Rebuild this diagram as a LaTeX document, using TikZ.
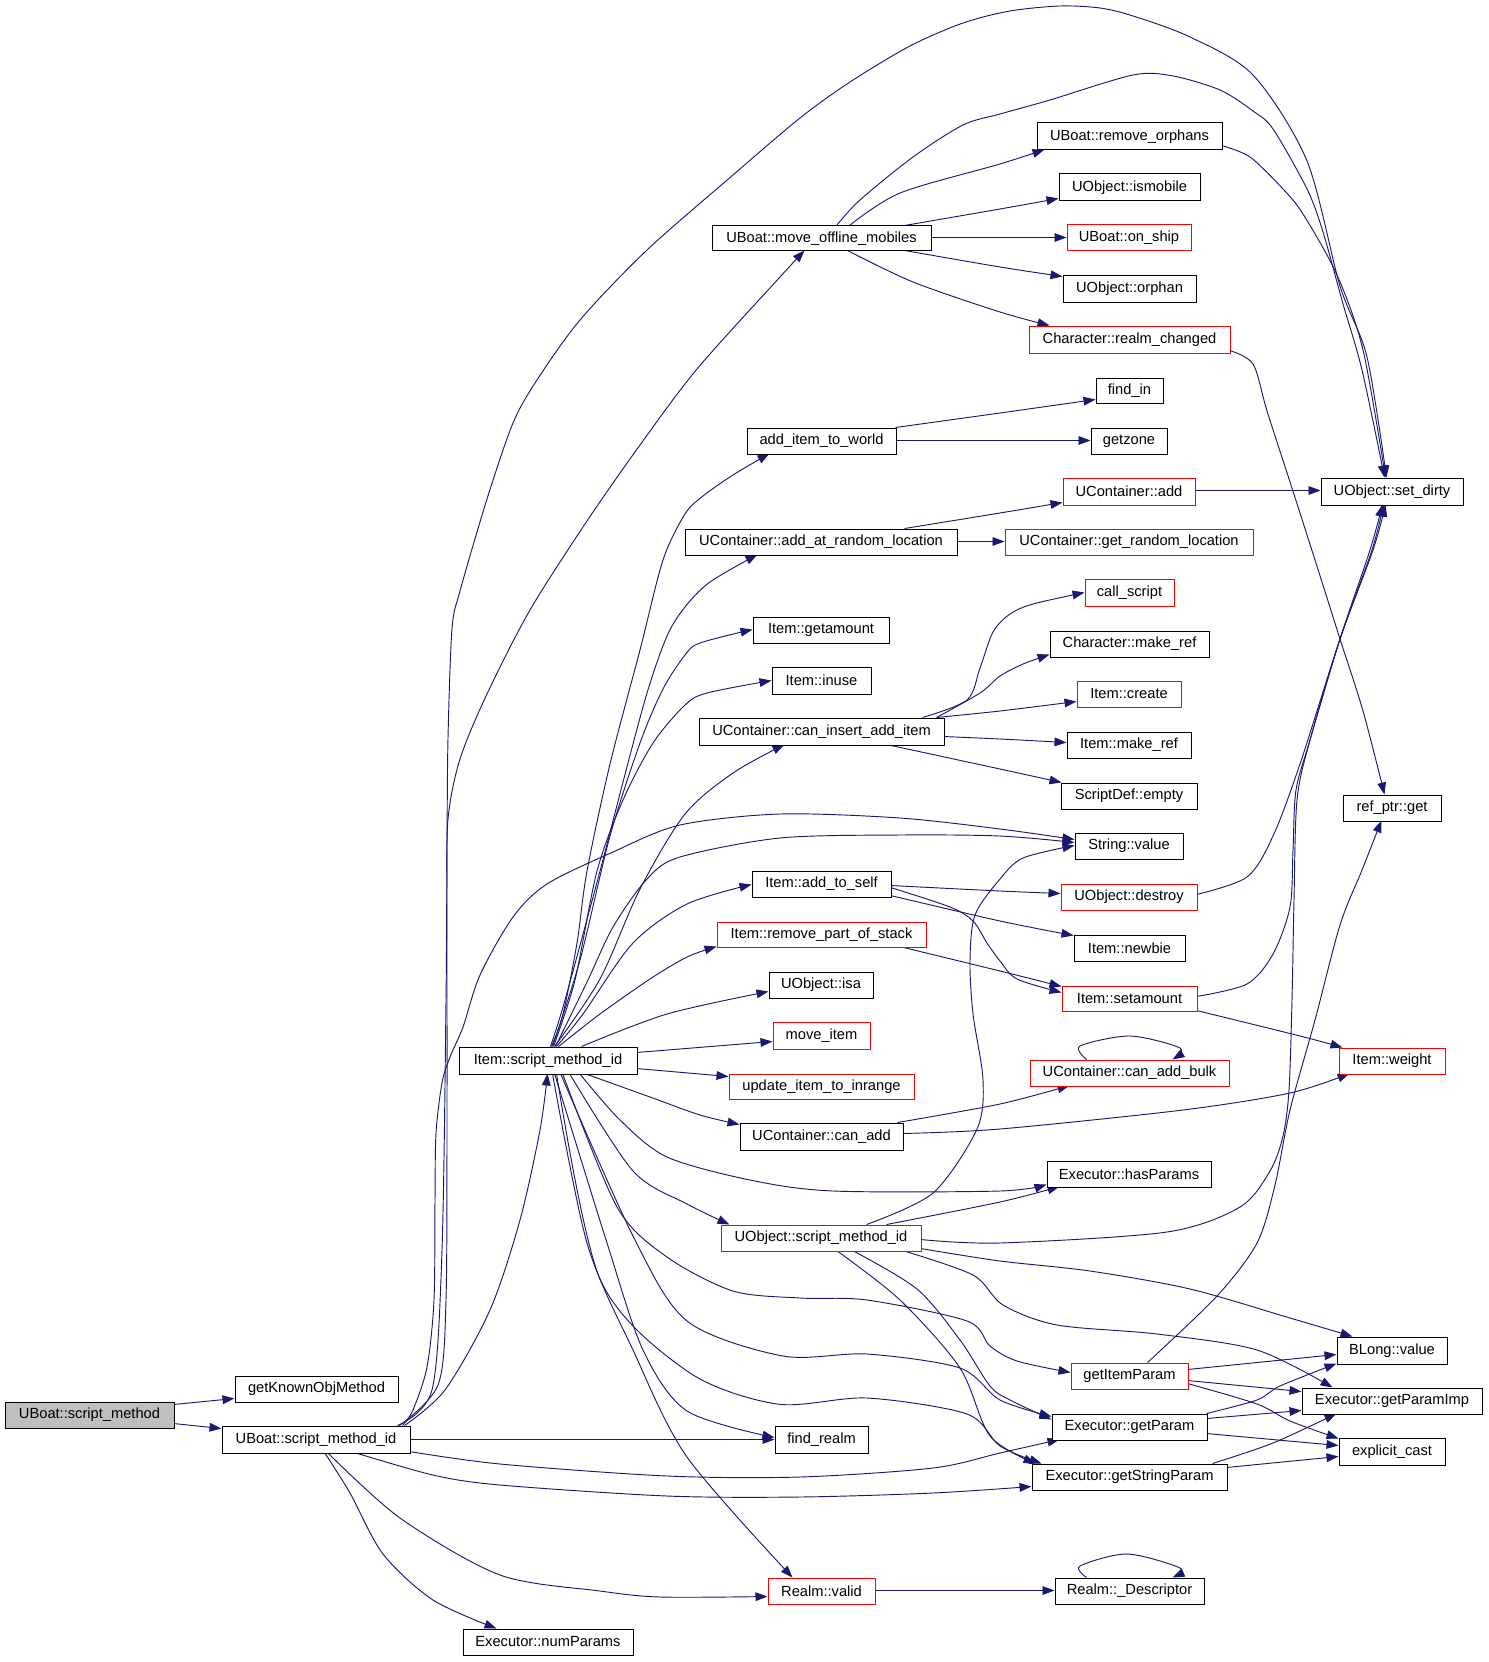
\documentclass[tikz,border=0pt]{standalone}
\usepackage{fontspec}
\setmainfont{Liberation Sans}
\usetikzlibrary{arrows.meta}
\definecolor{edgeblue}{HTML}{191970}
\definecolor{rootgray}{HTML}{BFBFBF}
\pgfdeclarelayer{bg}
\pgfsetlayers{bg,main}
\newcommand\mkbox[7][box]{\node[#1,minimum width={(#5-#3)*0.75pt},minimum height={(#6-#4)*0.75pt}] (#2) at ({(#3+#5)/2},{(#4+#6)/2}) {#7};}
\newcommand\edg[1]{\draw[cedge] plot[smooth,tension=0.5] coordinates {#1};}
\begin{document}
\begin{tikzpicture}[x=0.75pt,y=-0.75pt,
 box/.style={draw=black,fill=white,line width=0.75pt,inner sep=0pt,rectangle,font=\fontsize{11}{13}\selectfont},
 rbox/.style={box,draw=red},
 gbox/.style={box,fill=rootgray},
 cedge/.style={draw=edgeblue,line width=0.7pt,-{Triangle[length=9pt,width=6.5pt,fill=edgeblue]}}]
\useasboundingbox (0,0) rectangle (1488,1662);
% nodes
\mkbox[gbox]{SM}{5}{1402}{174}{1428}{UBoat::script\_method}
\mkbox{GKOM}{235}{1376}{398}{1402}{getKnownObjMethod}
\mkbox{USMI}{222}{1426}{410}{1453}{UBoat::script\_method\_id}
\mkbox{NUMP}{463}{1629}{633}{1655}{Executor::numParams}
\mkbox{CANADD}{740}{1123}{903}{1150}{UContainer::can\_add}
\mkbox[rbox]{OSMI}{721}{1225}{921}{1251}{UObject::script\_method\_id}
\mkbox{FINDREALM}{775}{1426}{868}{1453}{find\_realm}
\mkbox[rbox]{RVALID}{768}{1578}{875}{1604}{Realm::valid}
\mkbox{HASP}{1047}{1161}{1211}{1187}{Executor::hasParams}
\mkbox[rbox]{GIP}{1071}{1363}{1188}{1389}{getItemParam}
\mkbox{GETP}{1052}{1414}{1207}{1440}{Executor::getParam}
\mkbox{GSP}{1032}{1464}{1227}{1490}{Executor::getStringParam}
\mkbox{BLONG}{1337}{1337}{1447}{1364}{BLong::value}
\mkbox{GPI}{1302}{1388}{1482}{1414}{Executor::getParamImp}
\mkbox{ECAST}{1339}{1438}{1445}{1465}{explicit\_cast}
\mkbox{RDESC}{1055}{1578}{1204}{1604}{Realm::\_Descriptor}
\mkbox{MOM}{712}{226}{931}{251}{UBoat::move\_offline\_mobiles}
\mkbox{AITW}{747}{428}{896}{454}{add\_item\_to\_world}
\mkbox{AARL}{685}{529}{957}{555}{UContainer::add\_at\_random\_location}
\mkbox{RORPH}{1037}{123}{1222}{150}{UBoat::remove\_orphans}
\mkbox{ISMOB}{1059}{174}{1200}{201}{UObject::ismobile}
\mkbox[rbox]{ONSHIP}{1067}{225}{1191}{251}{UBoat::on\_ship}
\mkbox{ORPH}{1063}{275}{1196}{302}{UObject::orphan}
\mkbox[rbox]{RCHG}{1029}{326}{1230}{353}{Character::realm\_changed}
\mkbox{FINDIN}{1096}{378}{1163}{403}{find\_in}
\mkbox{GETZONE}{1091}{428}{1167}{454}{getzone}
\mkbox[rbox]{UCADD}{1063}{478}{1195}{505}{UContainer::add}
\mkbox{SETDIRTY}{1321}{478}{1463}{505}{UObject::set\_dirty}
\mkbox[rbox]{GRL}{1005}{529}{1253}{555}{UContainer::get\_random\_location}
\mkbox{GETAMT}{753}{617}{889}{643}{Item::getamount}
\mkbox{INUSE}{772}{667}{871}{694}{Item::inuse}
\mkbox{CIAI}{699}{718}{944}{745}{UContainer::can\_insert\_add\_item}
\mkbox{ATS}{752}{871}{891}{897}{Item::add\_to\_self}
\mkbox[rbox]{RPOS}{717}{922}{926}{947}{Item::remove\_part\_of\_stack}
\mkbox{ISA}{769}{972}{873}{998}{UObject::isa}
\mkbox[rbox]{MOVEITEM}{773}{1022}{870}{1049}{move\_item}
\mkbox[rbox]{UITI}{729}{1074}{914}{1099}{update\_item\_to\_inrange}
\mkbox{ISMI}{459}{1047}{637}{1074}{Item::script\_method\_id}
\mkbox[rbox]{CALLSCRIPT}{1085}{579}{1174}{606}{call\_script}
\mkbox{CMREF}{1050}{631}{1209}{657}{Character::make\_ref}
\mkbox[rbox]{ICREATE}{1077}{681}{1181}{707}{Item::create}
\mkbox{IMREF}{1067}{732}{1191}{758}{Item::make\_ref}
\mkbox{SDEMPTY}{1061}{783}{1197}{809}{ScriptDef::empty}
\mkbox{SVALUE}{1075}{833}{1183}{859}{String::value}
\mkbox[rbox]{ODESTROY}{1061}{884}{1197}{910}{UObject::destroy}
\mkbox{NEWBIE}{1074}{935}{1185}{961}{Item::newbie}
\mkbox[rbox]{SETAMT}{1062}{986}{1197}{1011}{Item::setamount}
\mkbox[rbox]{CABULK}{1030}{1060}{1229}{1086}{UContainer::can\_add\_bulk}
\mkbox{REFGET}{1343}{795}{1441}{821}{ref\_ptr::get}
\mkbox[rbox]{WEIGHT}{1339}{1048}{1445}{1074}{Item::weight}
% edges
\begin{pgfonlayer}{bg}
\edg{([shift={(169,3)}]SM.north west) ([shift={(0,23)}]GKOM.north west)}
\edg{([shift={(169,22)}]SM.north west) ([shift={(0,3)}]USMI.north west)}
\edg{([shift={(183,0)}]USMI.north west) (445,1390) (490,1310) (520,1220) (540,1130) ([shift={(89,27)}]ISMI.north west)}
\edg{([shift={(178,0)}]USMI.north west) (438,1385) (446,1300) (447,1100) (447,900) (448,819) (460,759) (487,694) (530,610) (587,521) (640,445) (697,369) (780,277) ([shift={(93,25)}]MOM.north west)}
\edg{([shift={(176,0)}]USMI.north west) (432,1390) (442,1250) (446,1000) (447,846) (448,738) (452,629) (460,591) (487,499) (513,423) (537,380) (580,320) (647,250) (733,175) (800,118) (850,82) (910,46) (963,23) (1010,11) (1060,6) (1100,8) (1133,16) (1190,37) (1253,75) (1307,161) (1340,286) (1367,357) ([shift={(66,0)}]SETDIRTY.north west)}
\edg{([shift={(181,0)}]USMI.north west) (413,1410) (427,1367) (434,1300) (435,1200) (436,1133) (442,1083) (450,1057) (463,1027) (480,975) (513,917) (547,884) (613,852) (680,825) (780,814) (900,818) (1000,829) ([shift={(0,7)}]SVALUE.north west)}
\edg{([shift={(188,14)}]USMI.north west) ([shift={(0,14)}]FINDREALM.north west)}
\edg{([shift={(188,26)}]USMI.north west) (500,1464) (667,1476) (800,1477) (933,1468) (1000,1453) ([shift={(8,26)}]GETP.north west)}
\edg{([shift={(133,27)}]USMI.north west) (433,1475) (500,1485) (667,1496) (800,1497) (933,1493) ([shift={(0,23)}]GSP.north west)}
\edg{([shift={(106,27)}]USMI.north west) (400,1518) (500,1575) (600,1591) (660,1597) ([shift={(0,19)}]RVALID.north west)}
\edg{([shift={(103,27)}]USMI.north west) (350,1493) (383,1554) (433,1600) ([shift={(34,0)}]NUMP.north west)}
% Item::script_method_id
\edg{([shift={(93,0)}]ISMI.north west) (563,1014) (577,943) (587,871) (610,764) (640,650) (663,560) (685,514) (703,496) (733,475) ([shift={(23,26)}]AITW.north west)}
\edg{([shift={(92,0)}]ISMI.north west) (565,1000) (600,871) (623,782) (647,693) (667,636) (685,607) (710,582) ([shift={(73,26)}]AARL.north west)}
\edg{([shift={(94,0)}]ISMI.north west) (580,960) (610,836) (640,743) (663,689) (685,655) (700,643) ([shift={(0,13)}]GETAMT.north west)}
\edg{([shift={(95,0)}]ISMI.north west) (575,980) (597,871) (623,800) (653,743) (685,705) (707,693) ([shift={(0,14)}]INUSE.north west)}
\edg{([shift={(96,0)}]ISMI.north west) (600,979) (640,889) (685,814) (733,773) ([shift={(86,27)}]CIAI.north west)}
\edg{([shift={(97,0)}]ISMI.north west) (587,982) (613,927) (647,879) (680,857) (780,838) (900,835) (1000,836) ([shift={(0,10)}]SVALUE.north west)}
\edg{([shift={(98,0)}]ISMI.north west) (583,1014) (633,943) (687,904) ([shift={(0,14)}]ATS.north west)}
\edg{([shift={(100,0)}]ISMI.north west) (600,1014) (650,979) (687,957) ([shift={(0,25)}]RPOS.north west)}
\edg{([shift={(123,0)}]ISMI.north west) (667,1014) ([shift={(0,20)}]ISA.north west)}
\edg{([shift={(178,6)}]ISMI.north west) ([shift={(0,20)}]MOVEITEM.north west)}
\edg{([shift={(178,22)}]ISMI.north west) ([shift={(0,3)}]UITI.north west)}
\edg{([shift={(126,27)}]ISMI.north west) (650,1097) (700,1115) ([shift={(0,2)}]CANADD.north west)}
\edg{([shift={(121,27)}]ISMI.north west) (620,1120) (667,1157) (750,1180) (833,1191) (1000,1191) ([shift={(0,24)}]HASP.north west)}
\edg{([shift={(111,27)}]ISMI.north west) (633,1171) (687,1204) ([shift={(9,0)}]OSMI.north west)}
\edg{([shift={(104,27)}]ISMI.north west) (617,1207) (667,1257) (733,1291) (800,1298) (867,1300) (967,1321) (990,1346) (1017,1361) ([shift={(0,10)}]GIP.north west)}
\edg{([shift={(102,27)}]ISMI.north west) (633,1236) (687,1321) (783,1356) (867,1354) (960,1368) (1000,1400) ([shift={(0,3)}]GETP.north west)}
\edg{([shift={(98,27)}]ISMI.north west) (600,1279) (687,1371) (777,1404) (867,1398) (967,1414) (1000,1446) ([shift={(10,0)}]GSP.north west)}
\edg{([shift={(96,27)}]ISMI.north west) (607,1243) (643,1350) (687,1411) ([shift={(0,12)}]FINDREALM.north west)}
\edg{([shift={(94,27)}]ISMI.north west) (587,1243) (633,1350) (687,1457) ([shift={(25,0)}]RVALID.north west)}
% UObject::script_method_id
\edg{([shift={(166,0)}]OSMI.north west) (1000,1202) ([shift={(13,26)}]HASP.north west)}
\edg{([shift={(146,0)}]OSMI.north west) (933,1193) (977,1129) (983,1080) (973,1014) (970,961) (975,915) (1000,879) (1023,858) ([shift={(0,13)}]SVALUE.north west)}
\edg{([shift={(200,15)}]OSMI.north west) (1000,1243) (1167,1232) (1240,1207) (1270,1171) (1283,1136) (1289,1090) (1292,1000) (1294,900) (1297,800) (1310,740) (1340,639) (1370,550) ([shift={(62,27)}]SETDIRTY.north west)}
\edg{([shift={(200,24)}]OSMI.north west) (1000,1261) (1090,1271) (1190,1289) (1290,1318) ([shift={(16,0)}]BLONG.north west)}
\edg{([shift={(182,26)}]OSMI.north west) (973,1275) (1003,1305) (1057,1325) (1157,1334) (1257,1350) ([shift={(31,0)}]GPI.north west)}
\edg{([shift={(132,26)}]OSMI.north west) (917,1289) (960,1340) (990,1386) (1010,1400) ([shift={(0,6)}]GETP.north west)}
\edg{([shift={(116,26)}]OSMI.north west) (900,1300) (960,1368) (990,1436) ([shift={(4,0)}]GSP.north west)}
% UBoat::move_offline_mobiles
\edg{([shift={(125,0)}]MOM.north west) (860,200) (913,157) (963,125) (1000,114) (1050,100) (1133,75) (1173,76) (1220,90) (1253,111) (1273,129) (1307,189) (1323,232) (1343,304) (1362,370) ([shift={(64,0)}]SETDIRTY.north west)}
\edg{([shift={(138,0)}]MOM.north west) (900,193) (1000,164) ([shift={(8,27)}]RORPH.north west)}
\edg{([shift={(193,0)}]MOM.north west) (1000,209) ([shift={(0,25)}]ISMOB.north west)}
\edg{([shift={(219,12)}]MOM.north west) ([shift={(0,13)}]ONSHIP.north west)}
\edg{([shift={(193,25)}]MOM.north west) (1000,267) ([shift={(0,2)}]ORPH.north west)}
\edg{([shift={(136,25)}]MOM.north west) (913,282) (1000,312) ([shift={(21,0)}]RCHG.north west)}
\edg{([shift={(185,23)}]RORPH.north west) (1250,157) (1283,189) (1303,214) (1337,275) (1363,350) ([shift={(65,0)}]SETDIRTY.north west)}
\edg{([shift={(201,25)}]RCHG.north west) (1253,364) (1267,411) (1290,482) (1315,560) (1340,639) (1363,711) ([shift={(42,0)}]REFGET.north west)}
\edg{([shift={(149,0)}]AITW.north west) (1000,413) ([shift={(0,22)}]FINDIN.north west)}
\edg{([shift={(149,13)}]AITW.north west) ([shift={(0,13)}]GETZONE.north west)}
\edg{([shift={(220,0)}]AARL.north west) (1000,513) ([shift={(0,25)}]UCADD.north west)}
\edg{([shift={(272,13)}]AARL.north west) ([shift={(0,13)}]GRL.north west)}
\edg{([shift={(132,13)}]UCADD.north west) ([shift={(0,13)}]SETDIRTY.north west)}
% UContainer::can_insert_add_item
\edg{([shift={(224,0)}]CIAI.north west) (967,700) (980,668) (993,632) (1010,614) (1033,604) ([shift={(0,14)}]CALLSCRIPT.north west)}
\edg{([shift={(238,0)}]CIAI.north west) (980,693) (1000,676) (1023,664) ([shift={(0,24)}]CMREF.north west)}
\edg{([shift={(238,0)}]CIAI.north west) (1000,711) ([shift={(0,21)}]ICREATE.north west)}
\edg{([shift={(245,19)}]CIAI.north west) (1000,739) ([shift={(0,11)}]IMREF.north west)}
\edg{([shift={(188,27)}]CIAI.north west) (1000,769) ([shift={(1,0)}]SDEMPTY.north west)}
% Item::add_to_self etc.
\edg{([shift={(139,15)}]ATS.north west) (1000,891) ([shift={(0,10)}]ODESTROY.north west)}
\edg{([shift={(139,25)}]ATS.north west) (1000,921) ([shift={(0,1)}]NEWBIE.north west)}
\edg{([shift={(139,17)}]ATS.north west) (950,907) (973,921) (987,943) (1000,961) (1017,979) ([shift={(0,7)}]SETAMT.north west)}
\edg{([shift={(183,25)}]RPOS.north west) (1000,971) ([shift={(0,1)}]SETAMT.north west)}
\edg{([shift={(136,11)}]ODESTROY.north west) (1247,877) (1273,836) (1300,764) (1340,639) (1373,550) ([shift={(65,27)}]SETDIRTY.north west)}
\edg{([shift={(135,11)}]SETAMT.north west) (1247,984) (1273,954) (1290,907) (1293,850) (1296,790) (1310,740) (1340,639) (1372,550) ([shift={(63,27)}]SETDIRTY.north west)}
\edg{([shift={(135,25)}]SETAMT.north west) (1300,1036) ([shift={(4,0)}]WEIGHT.north west)}
\edg{([shift={(158,0)}]CANADD.north west) (1000,1104) ([shift={(40,26)}]CABULK.north west)}
\edg{([shift={(163,11)}]CANADD.north west) (1000,1129) (1183,1110) (1290,1093) ([shift={(11,26)}]WEIGHT.north west)}
\edg{([shift={(57,0)}]CABULK.north west) (1080,1046) (1130,1036) (1180,1048) ([shift={(143,0)}]CABULK.north west)}
\edg{([shift={(107,13)}]RVALID.north west) ([shift={(0,13)}]RDESC.north west)}
\edg{([shift={(32,0)}]RDESC.north west) (1080,1566) (1127,1554) (1180,1568) ([shift={(118,0)}]RDESC.north west)}
% getItemParam / getParam / getStringParam
\edg{([shift={(117,7)}]GIP.north west) ([shift={(0,18)}]BLONG.north west)}
\edg{([shift={(117,18)}]GIP.north west) ([shift={(0,4)}]GPI.north west)}
\edg{([shift={(117,21)}]GIP.north west) (1257,1404) (1290,1421) ([shift={(0,1)}]ECAST.north west)}
\edg{([shift={(77,0)}]GIP.north west) (1217,1296) (1257,1243) (1275,1185) (1290,1110) (1315,1020) (1340,925) (1362,870) ([shift={(39,26)}]REFGET.north west)}
\edg{([shift={(155,0)}]GETP.north west) (1257,1400) (1280,1386) ([shift={(0,27)}]BLONG.north west)}
\edg{([shift={(155,5)}]GETP.north west) ([shift={(0,23)}]GPI.north west)}
\edg{([shift={(155,20)}]GETP.north west) ([shift={(0,8)}]ECAST.north west)}
\edg{([shift={(181,0)}]GSP.north west) (1273,1443) ([shift={(35,26)}]GPI.north west)}
\edg{([shift={(195,4)}]GSP.north west) ([shift={(0,19)}]ECAST.north west)}
\end{pgfonlayer}
\end{tikzpicture}
\end{document}
